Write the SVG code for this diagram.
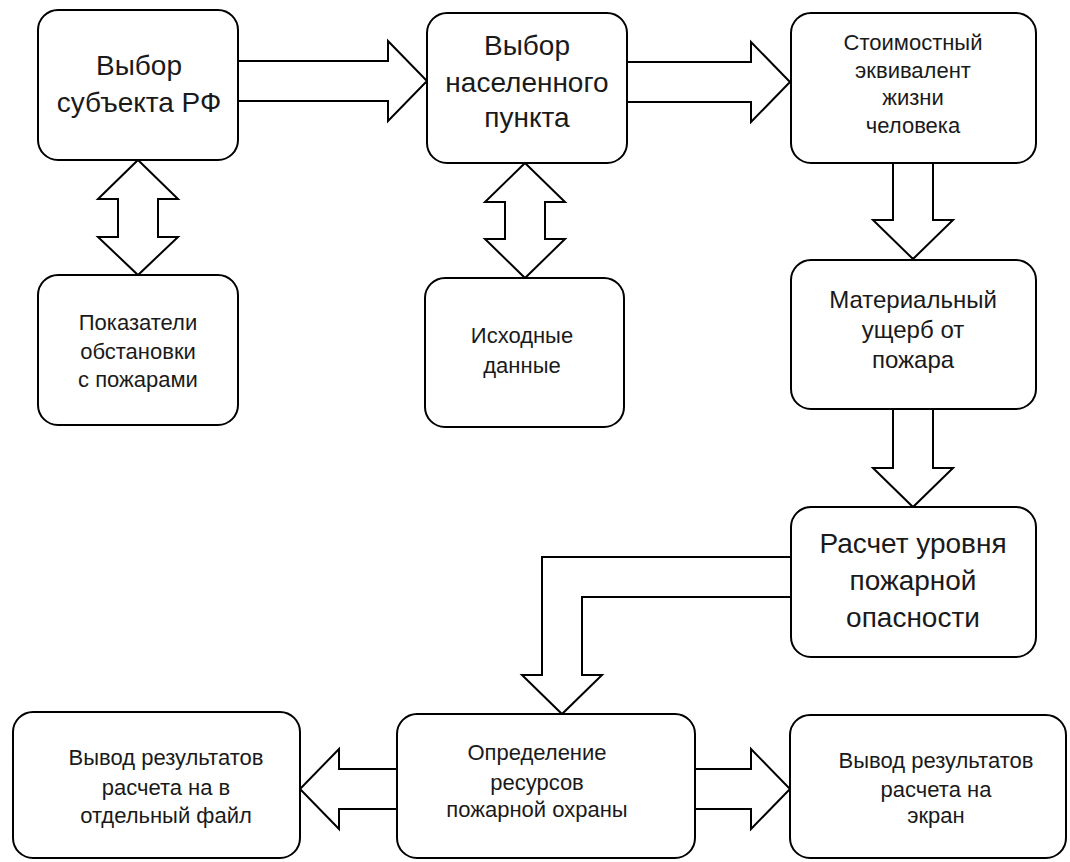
<svg xmlns="http://www.w3.org/2000/svg" width="1070" height="862" viewBox="0 0 1070 862">
  <style>
    .box { fill: #ffffff; stroke: #000000; stroke-width: 2; }
    .arrow { fill: #ffffff; stroke: #000000; stroke-width: 2; stroke-linejoin: miter; }
    text { font-family: "Liberation Sans", Arial, sans-serif; fill: #1a1a1a; text-anchor: middle; }
    .lg { font-size: 28px; }
    .md { font-size: 24px; }
    .sm { font-size: 22px; }
  </style>
  <rect width="1070" height="862" fill="#ffffff"/>

  <!-- block arrows -->
  <g id="connectors">
    <polygon class="arrow" points="238,61 388,61 388,41 427,81 388,121 388,101 238,101"/>
    <polygon class="arrow" points="627,62 751,62 751,42 790,82 751,122 751,102 627,102"/>
    <polygon class="arrow" points="893,163 933,163 933,220 953,220 913,259 873,220 893,220"/>
    <polygon class="arrow" points="893,409 933,409 933,468 953,468 913,507 873,468 893,468"/>
    <polygon class="arrow" points="138,160 178,199 158,199 158,237 178,237 138,275 98,237 118,237 118,199 98,199"/>
    <polygon class="arrow" points="525,163 565,202 545,202 545,239 565,239 525,278 485,239 505,239 505,202 485,202"/>
    <polygon class="arrow" points="791,557 542,557 542,675 522,675 562,714 602,675 582,675 582,597 791,597"/>
    <polygon class="arrow" points="695,769 751,769 751,749 790,789 751,829 751,809 695,809"/>
    <polygon class="arrow" points="397,769 339,769 339,749 300,789 339,829 339,809 397,809"/>
  </g>

  <g id="subject">
    <rect class="box" x="38" y="10" width="200" height="150" rx="20"/>
    <text class="lg" x="139" y="75">Выбор</text>
    <text class="lg" x="139" y="112">субъекта РФ</text>
  </g>

  <g id="settlement">
    <rect class="box" x="427" y="13" width="200" height="150" rx="20"/>
    <text class="lg" x="527" y="55">Выбор</text>
    <text class="lg" x="527" y="92">населенного</text>
    <text class="lg" x="527" y="127">пункта</text>
  </g>

  <g id="life-value">
    <rect class="box" x="791" y="13" width="245" height="150" rx="20"/>
    <text class="sm" x="913" y="50">Стоимостный</text>
    <text class="sm" x="913" y="78">эквивалент</text>
    <text class="sm" x="913" y="105">жизни</text>
    <text class="sm" x="913" y="133">человека</text>
  </g>

  <g id="damage">
    <rect class="box" x="791" y="260" width="245" height="149" rx="20"/>
    <text class="md" x="913" y="308">Материальный</text>
    <text class="md" x="913" y="338">ущерб от</text>
    <text class="md" x="913" y="368">пожара</text>
  </g>

  <g id="danger-level">
    <rect class="box" x="791" y="507" width="245" height="150" rx="20"/>
    <text class="lg" x="913" y="553">Расчет уровня</text>
    <text class="lg" x="913" y="590">пожарной</text>
    <text class="lg" x="913" y="627">опасности</text>
  </g>

  <g id="fire-indicators">
    <rect class="box" x="38" y="275" width="200" height="150" rx="20"/>
    <text class="sm" x="138" y="330">Показатели</text>
    <text class="sm" x="138" y="359">обстановки</text>
    <text class="sm" x="138" y="387">с пожарами</text>
  </g>

  <g id="source-data">
    <rect class="box" x="425" y="278" width="199" height="149" rx="20"/>
    <text class="sm" x="522" y="343">Исходные</text>
    <text class="sm" x="522" y="373">данные</text>
  </g>

  <g id="output-file">
    <rect class="box" x="13" y="712" width="287" height="146" rx="20"/>
    <text class="sm" x="166" y="765">Вывод результатов</text>
    <text class="sm" x="166" y="795">расчета на в</text>
    <text class="sm" x="166" y="823">отдельный файл</text>
  </g>

  <g id="resources">
    <rect class="box" x="397" y="714" width="298" height="144" rx="20"/>
    <text class="sm" x="537" y="760">Определение</text>
    <text class="sm" x="537" y="790">ресурсов</text>
    <text class="sm" x="537" y="817">пожарной охраны</text>
  </g>

  <g id="output-screen">
    <rect class="box" x="790" y="715" width="276" height="143" rx="20"/>
    <text class="sm" x="936" y="768">Вывод результатов</text>
    <text class="sm" x="936" y="797">расчета на</text>
    <text class="sm" x="936" y="823">экран</text>
  </g>
</svg>
